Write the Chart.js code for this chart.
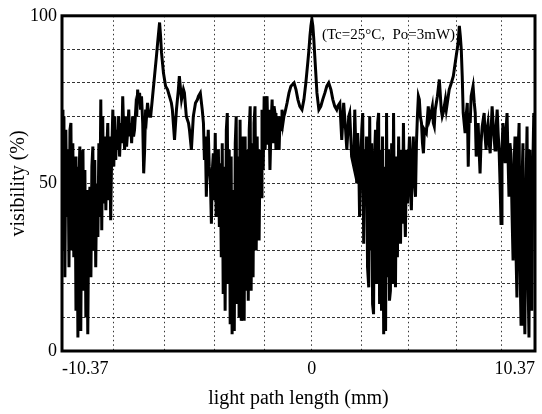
<!DOCTYPE html>
<html>
<head>
<meta charset="utf-8">
<script src="https://cdn.jsdelivr.net/npm/chart.js@4.4.1/dist/chart.umd.min.js"></script>
<style>
  html, body { margin: 0; padding: 0; background: #fff; }
  #wrap { width: 542px; height: 414px; }
</style>
</head>
<body>
<div id="wrap"><canvas id="vis" width="542" height="414"></canvas></div>
<script>
// light path length (mm)
const pathMm = [
  -10.37, -10.33, -10.29, -10.25, -10.21, -10.17, -10.12, -10.08, -10.04, -10.00,
  -9.96, -9.92, -9.88, -9.83, -9.79, -9.75, -9.71, -9.67, -9.63, -9.59,
  -9.55, -9.50, -9.46, -9.42, -9.38, -9.34, -9.30, -9.26, -9.21, -9.17,
  -9.13, -9.09, -9.05, -9.01, -8.97, -8.93, -8.88, -8.84, -8.80, -8.76,
  -8.72, -8.68, -8.64, -8.60, -8.55, -8.51, -8.47, -8.43, -8.39, -8.35, -8.31,
  -8.26, -8.22, -8.18, -8.14, -8.10, -8.06, -8.02, -7.98, -7.93, -7.89,
  -7.85, -7.81, -7.77, -7.73, -7.69, -7.64, -7.60, -7.56, -7.52, -7.48,
  -7.44, -7.40, -7.36, -7.31, -7.27, -7.23, -7.19, -7.15, -7.11, -7.07,
  -7.02, -6.98, -6.94, -6.90, -6.86, -6.82, -6.78, -6.74,
  -6.69, -6.61, -6.53, -6.45, -6.40, -6.32, -6.28, -6.24, -6.16, -6.07, -5.99, -5.91,
  -5.83, -5.79, -5.70, -5.62, -5.54, -5.50, -5.41, -5.33, -5.29, -5.21,
  -5.12, -5.08, -5.00, -4.92, -4.83, -4.75, -4.71, -4.63, -4.55, -4.50,
  -4.46, -4.42, -4.38, -4.34, -4.30, -4.26, -4.21, -4.17, -4.13, -4.09,
  -4.05, -4.01, -3.97, -3.93, -3.88, -3.84, -3.80, -3.76,
  -3.72, -3.68, -3.64, -3.60, -3.55, -3.51, -3.47, -3.43, -3.39, -3.35,
  -3.31, -3.26, -3.22, -3.18, -3.14, -3.10, -3.06, -3.02, -2.98, -2.93,
  -2.89, -2.85, -2.81, -2.77, -2.73, -2.69, -2.64, -2.60, -2.56, -2.52,
  -2.48, -2.44, -2.40, -2.36, -2.31, -2.27, -2.23, -2.19, -2.15, -2.11,
  -2.07, -2.02, -1.98,
  -1.94, -1.90, -1.86, -1.82, -1.78, -1.74, -1.69, -1.65, -1.61, -1.57,
  -1.53, -1.49, -1.45, -1.40, -1.36, -1.32, -1.28, -1.24, -1.20, -1.16,
  -1.12, -1.03, -0.95, -0.87, -0.74, -0.66, -0.58, -0.50, -0.41, -0.33,
  -0.25, -0.17, -0.12, -0.08, -0.04, 0, 0.04, 0.08, 0.12, 0.17,
  0.21, 0.29, 0.37, 0.45, 0.54, 0.62, 0.70, 0.79, 0.87, 0.95, 1.03,
  1.07, 1.16, 1.24, 1.32, 1.40, 1.45, 1.53, 1.57, 1.65, 1.74,
  1.78, 1.86, 1.90, 1.94, 1.98, 2.07, 2.11, 2.15, 2.19, 2.23,
  2.27, 2.31, 2.36, 2.40, 2.44, 2.48, 2.52, 2.56, 2.60, 2.64,
  2.69, 2.73, 2.77, 2.81, 2.85, 2.89, 2.93, 2.98, 3.02, 3.06,
  3.10, 3.14, 3.18, 3.22, 3.26, 3.31, 3.35, 3.39, 3.43, 3.47,
  3.51, 3.55, 3.60, 3.64, 3.68, 3.72, 3.76, 3.80, 3.84, 3.88,
  3.93, 3.97, 4.01, 4.05, 4.09, 4.13, 4.17, 4.21, 4.26, 4.30, 4.34,
  4.38, 4.42, 4.46, 4.50, 4.55, 4.59, 4.63, 4.67, 4.75, 4.83,
  4.88, 4.92, 5.00, 5.04, 5.08, 5.12, 5.21, 5.29, 5.37, 5.41,
  5.45, 5.54, 5.58, 5.62, 5.70, 5.79, 5.87,
  5.91, 5.99, 6.07, 6.12, 6.16, 6.20, 6.24, 6.28, 6.36, 6.40,
  6.45, 6.49, 6.53, 6.57, 6.61, 6.69, 6.74, 6.78, 6.82, 6.86,
  6.90, 6.94, 6.98, 7.02, 7.07, 7.15, 7.19, 7.23, 7.27, 7.31,
  7.36, 7.40, 7.44, 7.48, 7.52, 7.56, 7.60, 7.64, 7.69, 7.73, 7.77,
  7.81, 7.85, 7.89, 7.93, 7.98, 8.02, 8.06, 8.10, 8.14, 8.18,
  8.22, 8.26, 8.31, 8.35, 8.39, 8.43, 8.47, 8.51, 8.55, 8.60,
  8.64, 8.68, 8.72, 8.76, 8.80, 8.84, 8.88, 8.93, 8.97, 9.01,
  9.05, 9.09, 9.13, 9.17, 9.21, 9.26
];

// visibility (%)
const visibility = [
  72, 30, 70, 22, 66, 40, 60, 25, 66, 68,
  30, 62, 28, 58, 12, 55, 4, 50, 61, 6,
  52, 60, 18, 54, 10, 48, 5, 42, 49, 22,
  55, 61, 30, 57, 25, 50, 34, 62, 40, 75,
  36, 70, 44, 64, 42, 60, 68, 45, 64, 39, 58,
  72, 55, 70, 57, 66, 60, 70, 58, 68, 62,
  76, 66, 60, 70, 61, 66, 72, 64, 68, 62,
  70, 64, 66, 72, 70, 78, 74, 77, 72, 76,
  68, 53, 60, 72, 70, 74, 71, 70,
  70, 76, 82, 88, 92, 98, 94, 89, 83, 79, 78, 76,
  74, 72, 63, 72, 78, 82, 75, 78, 77, 70,
  68, 66, 60, 70, 74, 75, 76, 77, 72, 68,
  57, 64, 46, 58, 66, 55, 50, 38, 54, 59,
  45, 65, 40, 52, 60, 37, 56, 28,
  62, 17, 55, 12, 66, 71, 20, 60, 8, 58,
  5, 48, 6, 62, 70, 14, 58, 10, 69, 9,
  12, 64, 9, 64, 18, 60, 15, 66, 73, 18,
  62, 22, 68, 73, 30, 64, 35, 33, 60, 46,
  72, 54, 76,
  60, 74, 76, 62, 72, 54, 68, 75, 62, 73,
  71, 60, 70, 64, 60, 70, 66, 72, 68, 70,
  71, 74, 77, 79, 80, 78, 75, 73, 72, 75,
  80, 86, 90, 94, 97, 99, 97, 93, 88, 82,
  77, 72, 73, 75, 77, 79, 80, 78, 75, 73, 72,
  73, 74, 63, 74, 66, 60, 70, 71, 58, 55,
  72, 50, 65, 59, 40, 66, 71, 32, 60, 45,
  64, 25, 19, 70, 30, 62, 14, 11, 58, 66,
  20, 68, 71, 14, 60, 12, 64, 5, 55, 6,
  71, 22, 60, 15, 18, 62, 20, 71, 35, 19,
  58, 28, 64, 40, 32, 60, 38, 68, 45, 34,
  60, 44, 56, 64, 48, 42, 58, 64, 50, 46, 62,
  70, 76, 75, 70, 68, 62, 59, 66, 65, 73,
  69, 70, 73, 68, 67, 72, 76, 81, 72, 70,
  71, 75, 72, 74, 78, 80, 82,
  84, 88, 92, 97, 94, 90, 82, 71, 65, 70,
  74, 55, 71, 68, 76, 79, 74, 71, 58, 64,
  68, 60, 53, 62, 67, 71, 64, 60, 66, 68,
  62, 59, 66, 73, 68, 64, 60, 66, 72, 65, 60,
  50, 38, 60, 68, 62, 56, 66, 71, 58, 46,
  62, 59, 40, 27, 55, 64, 30, 16, 58, 68,
  25, 8, 50, 62, 20, 5, 45, 67, 22, 4,
  60, 30, 12, 55, 71, 68
];

// dotted grid positions along x (mm) and their labels
const xGrid = [-10.37, -8.22, -6.12, -4.05, -1.98, 0, 2.07, 4.01, 5.99, 7.85, 9.26];
const xTickText = ['-10.37', '', '', '', '', '0', '', '', '', '', '10.37'];
const yTickShown = [0, 50, 100];

const serif = '"Liberation Serif", "Times New Roman", serif';

// thick frame round the plot + condition note
const framePlugin = {
  id: 'frame',
  afterDatasetsDraw(chart) {
    const { ctx, chartArea: a } = chart;
    ctx.save();
    ctx.strokeStyle = '#000';
    ctx.lineWidth = 3;
    ctx.strokeRect(a.left, a.top, a.right - a.left, a.bottom - a.top);
    ctx.fillStyle = '#000';
    ctx.font = '15px ' + serif;
    ctx.textAlign = 'left';
    ctx.textBaseline = 'middle';
    ctx.fillText('(Tc=25°C,  Po=3mW)', 322, 35);
    ctx.restore();
  }
};

new Chart(document.getElementById('vis'), {
  type: 'line',
  data: {
    datasets: [{
      data: pathMm.map((x, i) => ({ x: x, y: visibility[i] })),
      borderColor: '#000',
      borderWidth: 3,
      pointRadius: 0,
      tension: 0,
      fill: false
    }]
  },
  options: {
    responsive: false,
    animation: false,
    devicePixelRatio: 1,
    layout: { padding: { top: 13, right: 5, left: 0, bottom: 0 } },
    plugins: { legend: { display: false }, tooltip: { enabled: false } },
    scales: {
      x: {
        type: 'linear',
        min: -10.37,
        max: 9.26,
        afterBuildTicks: s => { s.ticks = xGrid.map(v => ({ value: v })); },
        afterFit: s => { s.height = 63; },
        grid: { color: 'rgba(0,0,0,0.8)', lineWidth: 1, drawTicks: false },
        border: { display: false, dash: [1.5, 3] },
        ticks: {
          autoSkip: false, maxRotation: 0, padding: 7, align: 'inner',
          color: '#000', font: { family: serif, size: 18 },
          callback: (v, i) => xTickText[i]
        },
        title: {
          display: true, text: 'light path length (mm)', color: '#000',
          font: { family: serif, size: 20 }, padding: { top: 0, bottom: 3 }
        }
      },
      y: {
        min: 0,
        max: 100,
        afterFit: s => { s.width = 62; },
        grid: { color: 'rgba(0,0,0,0.8)', lineWidth: 1, drawTicks: false },
        border: { display: false, dash: [3, 2] },
        ticks: {
          stepSize: 10, padding: 5, color: '#000',
          font: { family: serif, size: 18 },
          callback: v => (yTickShown.includes(v) ? v : '')
        },
        title: {
          display: true, text: 'visibility (%)', color: '#000',
          font: { family: serif, size: 20 }, padding: { top: 7, bottom: 0 }
        }
      }
    }
  },
  plugins: [framePlugin]
});
</script>
</body>
</html>
